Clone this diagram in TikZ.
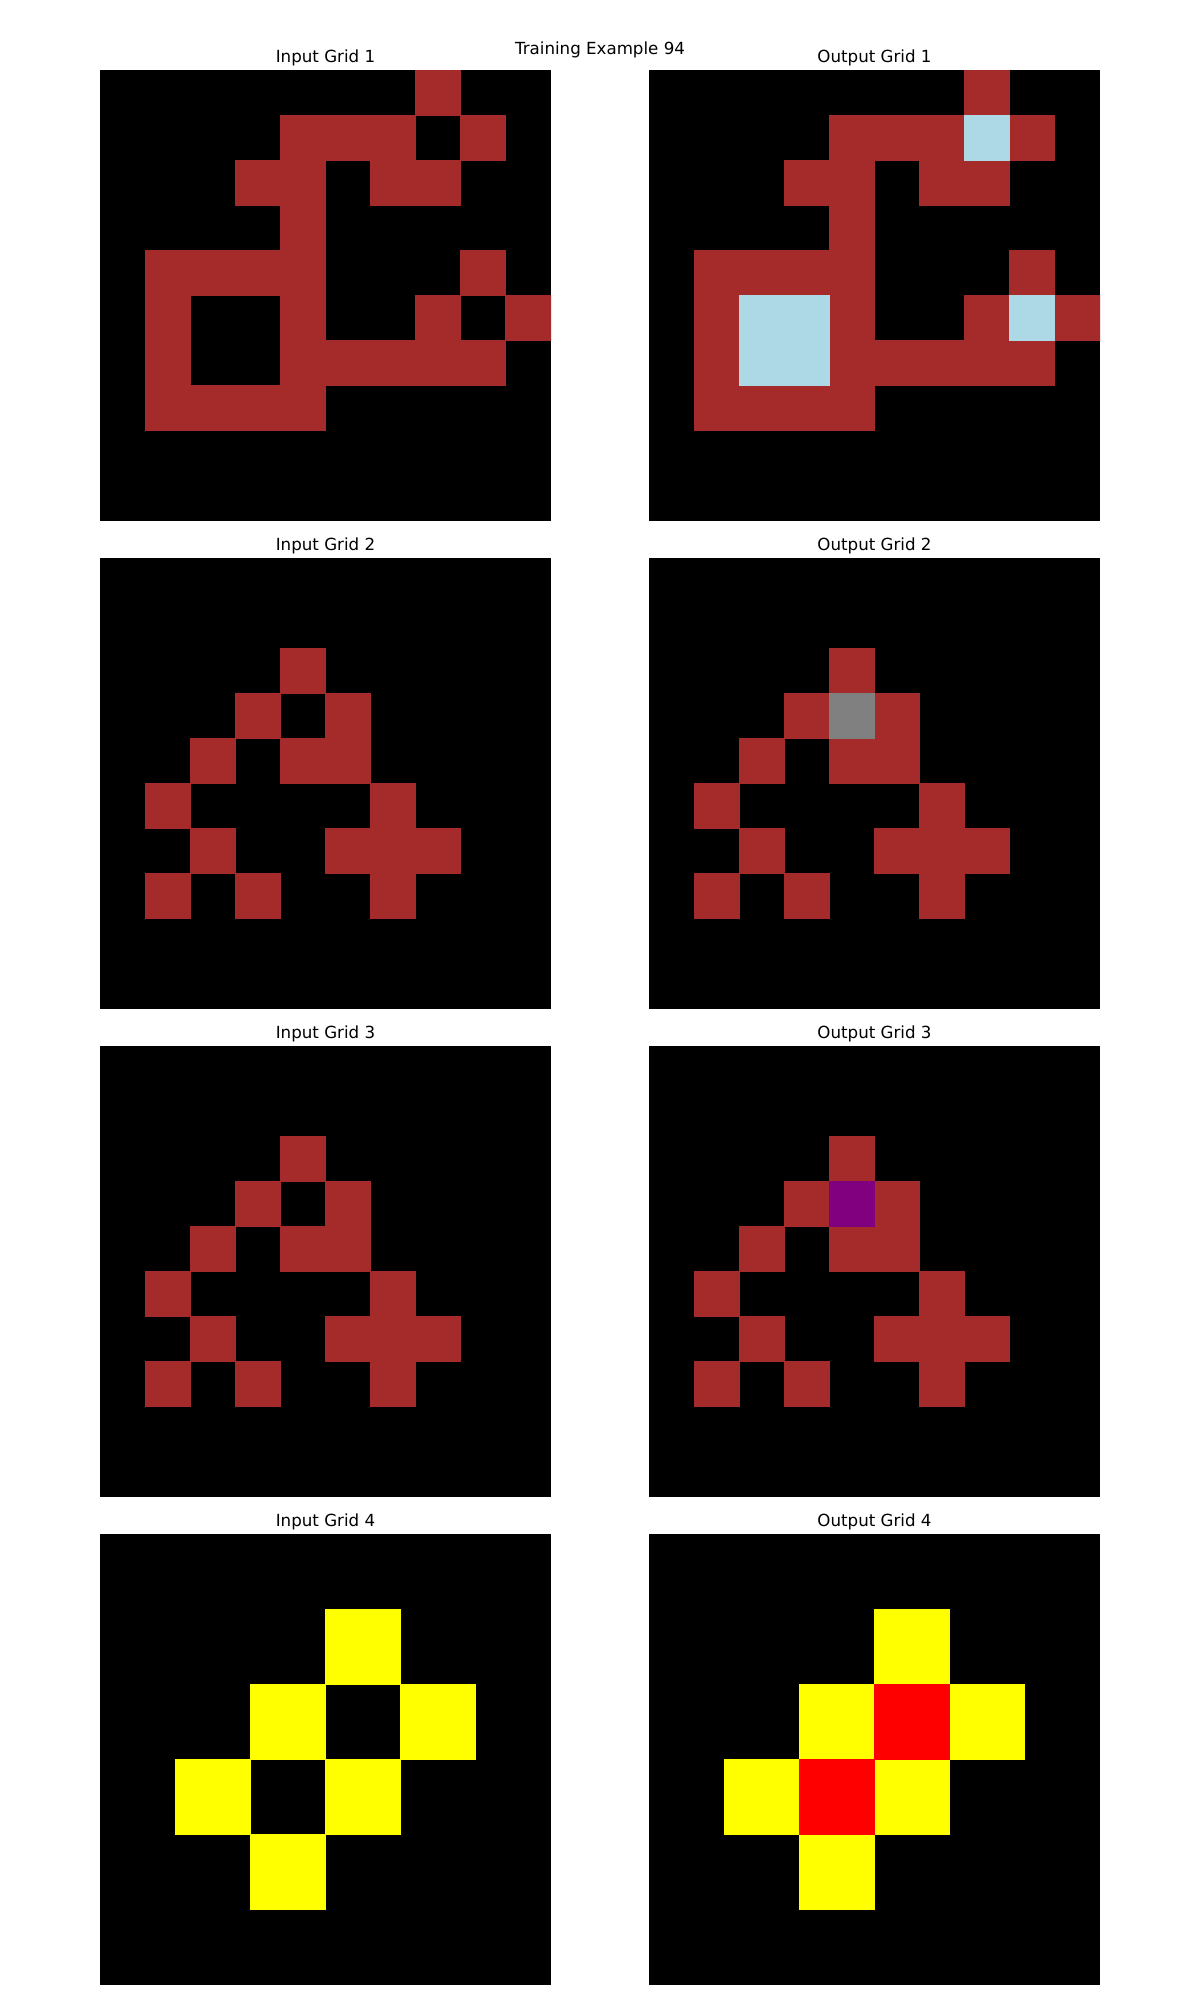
\documentclass[tikz,border=0pt]{standalone}
\usepackage{fontspec}
\setmainfont{DejaVu Sans}
\definecolor{arcred}{HTML}{A52A2A}
\definecolor{arcblue}{HTML}{ADD8E6}
\definecolor{arcgrey}{HTML}{808080}
\definecolor{arcpurple}{HTML}{800080}
\definecolor{arcyellow}{HTML}{FFFF00}
\definecolor{arcbright}{HTML}{FF0000}
% #1 ox, #2 oy, #3 cell size, #4 cells per side
\newcommand\arcgrid[4]{\fill[black] (#1,#2) rectangle ++({#4*#3},{#4*#3});}
% #1 ox, #2 oy, #3 cell size, #4 colour, #5 list of row/col
\newcommand\arccells[5]{\begin{scope}\clip (#1,#2) rectangle ++({10*45.1},{10*45.1});
  \foreach \r/\c in {#5} {\filldraw[fill=#4,draw=#4,line width=1pt] ({#1+\c*#3},{#2+\r*#3}) rectangle ++(#3,#3);}\end{scope}}
\begin{document}
\begin{tikzpicture}[x=1pt,y=-1pt,
  title/.style={anchor=base, inner sep=0pt, font=\fontsize{16.67}{20}\selectfont}]
\fill[white] (0,0) rectangle (1200,2000);
\useasboundingbox (0,0) rectangle (1200,2000);
\node[title] (suptitle) at (600,54.3) {Training Example 94};

% ---------- Example 1 ----------
\node[title] (in1) at (325.5,62.2) {Input Grid 1};
\node[title] (out1) at (874.5,62.2) {Output Grid 1};
\arcgrid{100}{70}{45.1}{10}
\arccells{100}{70}{45.1}{arcred}{0/7,1/4,1/5,1/6,1/8,2/3,2/4,2/6,2/7,3/4,4/1,4/2,4/3,4/4,4/8,5/1,5/4,5/7,5/9,6/1,6/4,6/5,6/6,6/7,6/8,7/1,7/2,7/3,7/4}
\arcgrid{649}{70}{45.1}{10}
\arccells{649}{70}{45.1}{arcred}{0/7,1/4,1/5,1/6,1/8,2/3,2/4,2/6,2/7,3/4,4/1,4/2,4/3,4/4,4/8,5/1,5/4,5/7,5/9,6/1,6/4,6/5,6/6,6/7,6/8,7/1,7/2,7/3,7/4}
\arccells{649}{70}{45.1}{arcblue}{1/7,5/2,5/3,6/2,6/3,5/8}

% ---------- Example 2 ----------
\node[title] (in2) at (325.5,550.4) {Input Grid 2};
\node[title] (out2) at (874.5,550.4) {Output Grid 2};
\arcgrid{100}{558}{45.1}{10}
\arccells{100}{558}{45.1}{arcred}{2/4,3/3,3/5,4/2,4/4,4/5,5/1,5/6,6/2,6/5,6/6,6/7,7/1,7/3,7/6}
\arcgrid{649}{558}{45.1}{10}
\arccells{649}{558}{45.1}{arcred}{2/4,3/3,3/5,4/2,4/4,4/5,5/1,5/6,6/2,6/5,6/6,6/7,7/1,7/3,7/6}
\arccells{649}{558}{45.1}{arcgrey}{3/4}

% ---------- Example 3 ----------
\node[title] (in3) at (325.5,1038.4) {Input Grid 3};
\node[title] (out3) at (874.5,1038.4) {Output Grid 3};
\arcgrid{100}{1046}{45.1}{10}
\arccells{100}{1046}{45.1}{arcred}{2/4,3/3,3/5,4/2,4/4,4/5,5/1,5/6,6/2,6/5,6/6,6/7,7/1,7/3,7/6}
\arcgrid{649}{1046}{45.1}{10}
\arccells{649}{1046}{45.1}{arcred}{2/4,3/3,3/5,4/2,4/4,4/5,5/1,5/6,6/2,6/5,6/6,6/7,7/1,7/3,7/6}
\arccells{649}{1046}{45.1}{arcpurple}{3/4}

% ---------- Example 4 ----------
\node[title] (in4) at (325.5,1526.4) {Input Grid 4};
\node[title] (out4) at (874.5,1526.4) {Output Grid 4};
\arcgrid{100}{1534}{75.1667}{6}
\arccells{100}{1534}{75.1667}{arcyellow}{1/3,2/2,2/4,3/1,3/3,4/2}
\arcgrid{649}{1534}{75.1667}{6}
\arccells{649}{1534}{75.1667}{arcyellow}{1/3,2/2,2/4,3/1,3/3,4/2}
\arccells{649}{1534}{75.1667}{arcbright}{2/3,3/2}
\end{tikzpicture}
\end{document}
